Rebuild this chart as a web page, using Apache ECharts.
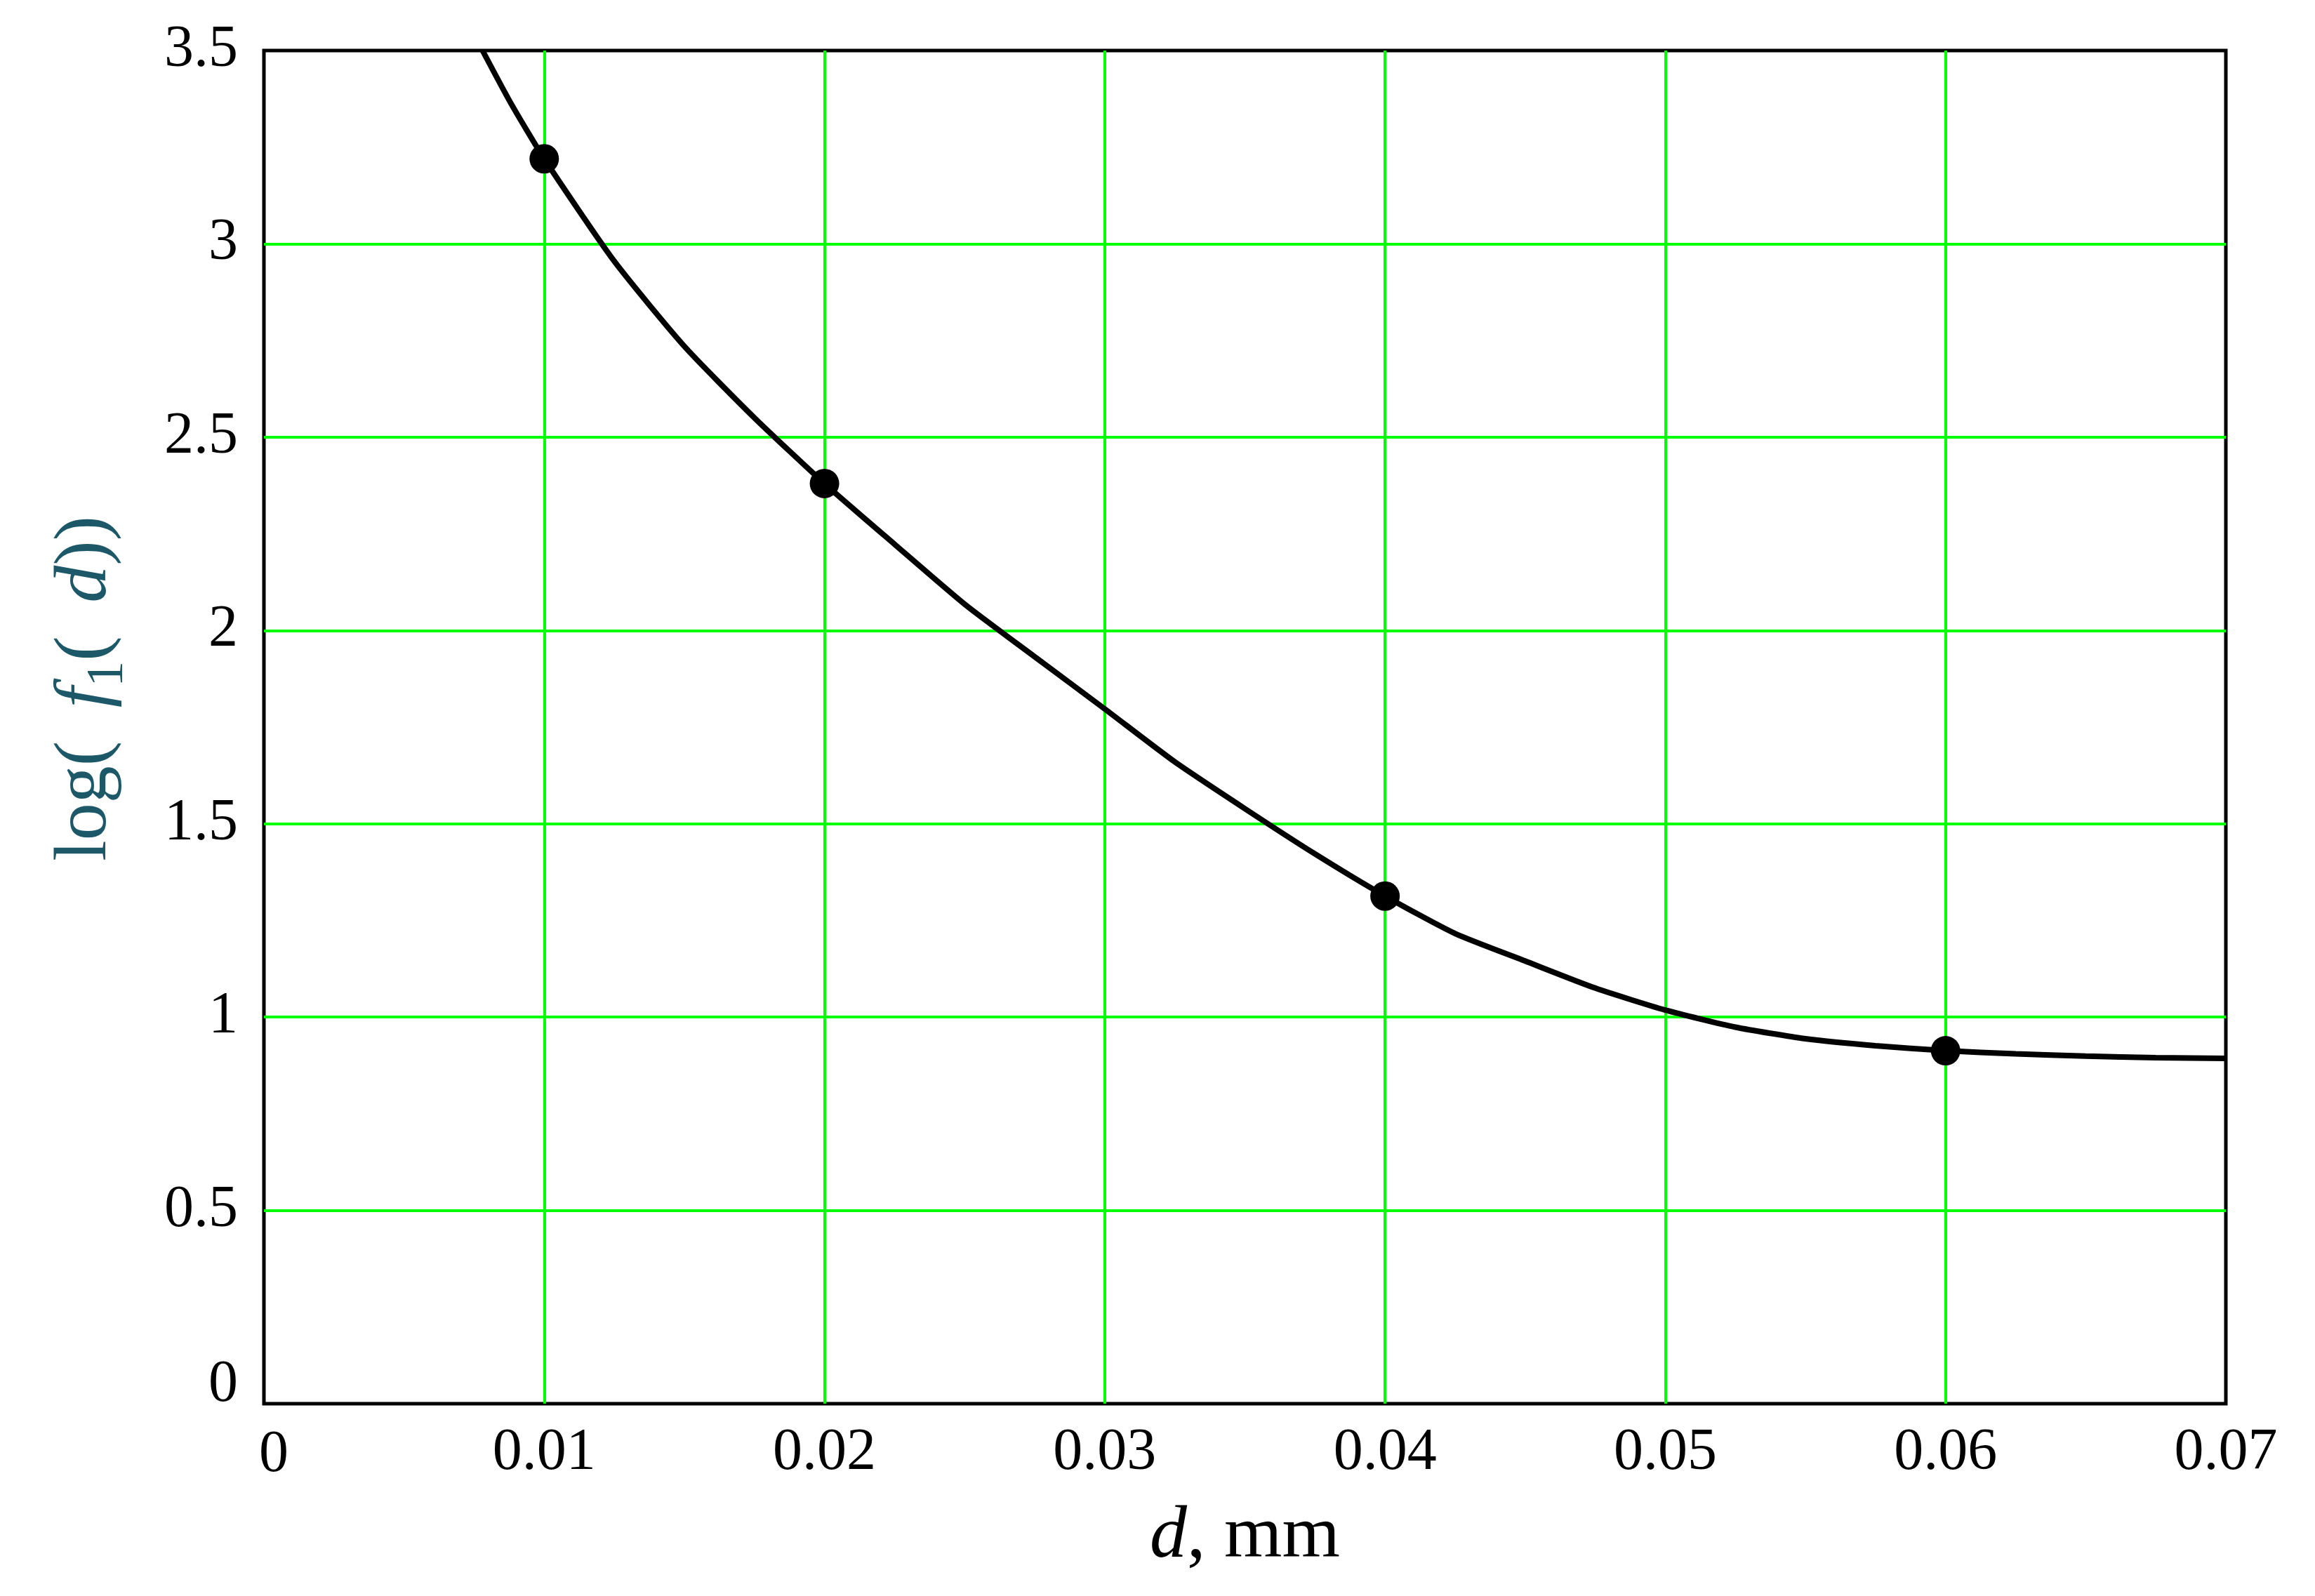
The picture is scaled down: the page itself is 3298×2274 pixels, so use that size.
<!DOCTYPE html>
<html>
<head>
<meta charset="utf-8">
<script src="https://cdn.jsdelivr.net/npm/echarts/dist/echarts.min.js"></script>
<style>
html,body{margin:0;padding:0;background:#ffffff;}
#chart{width:3298px;height:2274px;}
</style>
</head>
<body>
<div id="chart"></div>
<script>
// Curve samples
const curveD = [0.0078, 0.0088, 0.0100, 0.0125, 0.0150, 0.0175, 0.0200, 0.0225, 0.0250, 0.0275,
                0.0300, 0.0325, 0.0350, 0.0375, 0.0400, 0.0425, 0.0450, 0.0475, 0.0500, 0.0525,
                0.0550, 0.0575, 0.0600, 0.0625, 0.0650, 0.0675, 0.0700];
const curveV = [3.50, 3.365, 3.22, 2.955, 2.735, 2.55, 2.38, 2.223, 2.068, 1.932,
                1.797, 1.660, 1.539, 1.422, 1.313, 1.216, 1.145, 1.075, 1.018, 0.974,
                0.944, 0.926, 0.913, 0.905, 0.899, 0.895, 0.893];
// Marked points
const markerD = [0.01, 0.02, 0.04, 0.06];
const markerV = [3.22, 2.38, 1.313, 0.913];
// Tick labels
const xTickValues = [0, 0.01, 0.02, 0.03, 0.04, 0.05, 0.06, 0.07];
const xTickLabels = ['0', '0.01', '0.02', '0.03', '0.04', '0.05', '0.06', '0.07'];
const yTickValues = [0, 0.5, 1, 1.5, 2, 2.5, 3, 3.5];
const yTickLabels = ['0', '0.5', '1', '1.5', '2', '2.5', '3', '3.5'];

const SERIF = '"Liberation Serif", "DejaVu Serif", serif';

function findLabel(values, labels, v) {
  for (let i = 0; i < values.length; i++) {
    if (Math.abs(values[i] - v) < 1e-9) return labels[i];
  }
  return '';
}

const chart = echarts.init(document.getElementById('chart'), null, {renderer: 'canvas'});
chart.setOption({
  animation: false,
  backgroundColor: '#ffffff',
  grid: {
    left: 376, right: 127, top: 72, bottom: 274,
    show: true, borderColor: '#000000', borderWidth: 5, backgroundColor: 'transparent'
  },
  xAxis: {
    type: 'value', min: 0, max: 0.07, interval: 0.01,
    axisLine: {show: false},
    axisTick: {show: false},
    splitLine: {show: true, showMinLine: false, showMaxLine: false, lineStyle: {color: '#00ff00', width: 4}},
    axisLabel: {
      margin: 29,
      color: '#000000', fontFamily: SERIF, fontSize: 84, lineHeight: 84,
      showMinLabel: true, showMaxLabel: true,
      formatter: function (v) {
        const t = findLabel(xTickValues, xTickLabels, v);
        return v === 0 ? '{z|' + t + '}' : t;
      },
      rich: {z: {fontFamily: SERIF, fontSize: 84, lineHeight: 84, color: '#000', padding: [6, 0, 0, 28]}}
    },
    name: '{i|d}{n|, mm}',
    nameLocation: 'middle',
    nameGap: 130,
    nameTextStyle: {
      rich: {
        i: {fontFamily: SERIF, fontStyle: 'italic', fontSize: 106, lineHeight: 120, color: '#000'},
        n: {fontFamily: SERIF, fontSize: 106, lineHeight: 120, color: '#000'}
      }
    }
  },
  yAxis: {
    type: 'value', min: 0, max: 3.5, interval: 0.5,
    axisLine: {show: false},
    axisTick: {show: false},
    splitLine: {show: true, showMinLine: false, showMaxLine: false, lineStyle: {color: '#00ff00', width: 4}},
    axisLabel: {
      margin: 37,
      color: '#000000', fontFamily: SERIF, fontSize: 84, lineHeight: 84,
      showMinLabel: true, showMaxLabel: true,
      formatter: function (v) {
        const t = findLabel(yTickValues, yTickLabels, v);
        return v === 0 ? '{z|' + t + '}' : t;
      },
      rich: {z: {fontFamily: SERIF, fontSize: 84, lineHeight: 84, color: '#000', padding: [0, 0, 52, 0]}}
    },
    name: '{n|log(\u2009 }{i|f}{s|1}{n|(\u2009 }{i|d}{n|))}',
    nameLocation: 'middle',
    nameRotate: 90,
    nameGap: 184,
    nameTextStyle: {
      padding: [0, 0, 0, 110],
      rich: {
        n: {fontFamily: SERIF, fontSize: 106, lineHeight: 140, color: '#1c5868', verticalAlign: 'middle'},
        i: {fontFamily: SERIF, fontStyle: 'italic', fontSize: 106, lineHeight: 140, color: '#1c5868', verticalAlign: 'middle'},
        s: {fontFamily: SERIF, fontSize: 74, lineHeight: 72, color: '#1c5868', verticalAlign: 'bottom'}
      }
    }
  },
  series: [
    {
      type: 'line',
      data: curveD.map((d, i) => [d, curveV[i]]),
      showSymbol: false,
      symbol: 'none',
      smooth: 0.2,
      clip: true,
      lineStyle: {color: '#000000', width: 8},
      z: 3
    },
    {
      type: 'scatter',
      data: markerD.map((d, i) => [d, markerV[i]]),
      symbol: 'circle',
      symbolSize: 42,
      itemStyle: {color: '#000000', opacity: 1},
      z: 4
    }
  ]
});
</script>
</body>
</html>
